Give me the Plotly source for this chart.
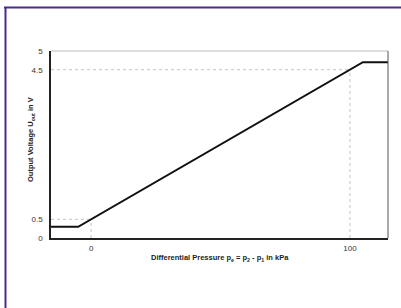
import plotly.graph_objects as go

# Data
pressure_kpa = [-15.5, -5, 105, 114.7]
output_voltage = [0.3, 0.3, 4.7, 4.7]
ref_pressure = [0, 100]
ref_voltage = [0.5, 4.5]
x_ticks = [0, 100]
x_tick_labels = ["0", "100"]
y_ticks = [0, 0.5, 4.5, 5]
y_tick_labels = ["0", "0.5", "4.5", "5"]

X_MIN, X_MAX = -15.5, 114.7
Y_MIN, Y_MAX = 0, 5

fig = go.Figure()

# dotted reference lines
for xr, yr in zip(ref_pressure, ref_voltage):
    fig.add_trace(go.Scatter(x=[X_MIN, xr], y=[yr, yr], mode="lines",
                             line=dict(color="#c4c4c4", width=1, dash="dot"),
                             hoverinfo="skip", showlegend=False))
    fig.add_trace(go.Scatter(x=[xr, xr], y=[Y_MIN, yr], mode="lines",
                             line=dict(color="#c4c4c4", width=1, dash="dot"),
                             hoverinfo="skip", showlegend=False))

fig.add_trace(go.Scatter(x=pressure_kpa, y=output_voltage, mode="lines",
                         line=dict(color="#111111", width=2),
                         showlegend=False))

font_family = "Liberation Sans, Arial, sans-serif"
PW, PH = 337, 187  # plot area size in px

fig.update_layout(
    width=401, height=308,
    margin=dict(l=51, r=13, t=51, b=70),
    paper_bgcolor="white", plot_bgcolor="white",
    font=dict(family=font_family, size=8, color="#333"),
    xaxis=dict(range=[X_MIN, X_MAX], tickvals=x_ticks, ticktext=x_tick_labels,
               showgrid=False, zeroline=False, showline=True, linecolor="#222",
               linewidth=1.5, ticks="", ticklabelstandoff=2),
    yaxis=dict(range=[Y_MIN, Y_MAX], tickvals=y_ticks, ticktext=y_tick_labels,
               showgrid=False, zeroline=False, showline=True, linecolor="#222",
               linewidth=1.5, ticks="", ticklabelstandoff=5),
    annotations=[
        dict(text="<b>Differential Pressure p<sub>e</sub> = p<sub>2</sub> - p<sub>1</sub> in kPa</b>",
             xref="paper", yref="paper", x=(220 - 51) / PW, y=(238 - 258) / PH,
             xanchor="center", yanchor="middle", showarrow=False,
             font=dict(size=7.5, color="#222")),
        dict(text="<b>Output Voltage U<sub>out</sub> in V</b>",
             xref="paper", yref="paper", x=(31 - 51) / PW, y=(238 - 140) / PH,
             xanchor="center", yanchor="middle", showarrow=False, textangle=-90,
             font=dict(size=7.5, color="#222")),
    ],
    shapes=[
        # top border of plot (light)
        dict(type="line", xref="paper", yref="paper", x0=0, x1=1, y0=1, y1=1,
             line=dict(color="#bdbdbd", width=1)),
        # right border of plot
        dict(type="line", xref="paper", yref="paper", x0=1, x1=1, y0=0, y1=1,
             line=dict(color="#555", width=1)),
        # purple frame (top and left)
        dict(type="line", xref="paper", yref="paper",
             x0=(4 - 51) / PW, x1=(402 - 51) / PW,
             y0=(238 - 7.5) / PH, y1=(238 - 7.5) / PH,
             line=dict(color="#4a2c8a", width=2)),
        dict(type="line", xref="paper", yref="paper",
             x0=(5.5 - 51) / PW, x1=(5.5 - 51) / PW,
             y0=(238 - 7) / PH, y1=(238 - 310) / PH,
             line=dict(color="#4a2c8a", width=2)),
    ],
)

fig.write_html(
    "out.html",
    config={"displayModeBar": False},
    post_script="document.body.style.margin='0';document.body.style.overflow='hidden';",
)
